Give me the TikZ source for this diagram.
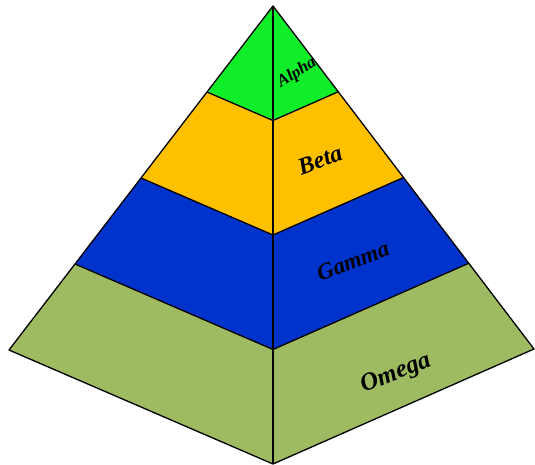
\documentclass[tikz,border=0pt]{standalone}
\usepackage{fontspec}
\setmainfont{Liberation Serif}
\usetikzlibrary{calc}
\definecolor{cAlpha}{HTML}{10EE2A}
\definecolor{cBeta}{HTML}{FFC000}
\definecolor{cGamma}{HTML}{0033CC}
\definecolor{cOmega}{HTML}{9FBB62}
\tikzset{
  edge/.style={draw=black,line width=1.3pt,line join=round},
  lbl/.style={text=black,inner sep=0pt}
}
\newcommand{\lblfont}[1]{\fontsize{#1}{#1}\selectfont\bfseries\itshape}
\begin{document}
\begin{tikzpicture}[x=1pt,y=-1pt]
\useasboundingbox (0,0) rectangle (535,465);
\coordinate (A) at (273,6);
\coordinate (L) at (9,350);
\coordinate (R) at (534,349);
\coordinate (B) at (273,464);
\coordinate (L1) at ($(A)!0.25!(L)$);
\coordinate (L2) at ($(A)!0.5!(L)$);
\coordinate (L3) at ($(A)!0.75!(L)$);
\coordinate (R1) at ($(A)!0.25!(R)$);
\coordinate (R2) at ($(A)!0.5!(R)$);
\coordinate (R3) at ($(A)!0.75!(R)$);
\coordinate (C1) at ($(A)!0.25!(B)$);
\coordinate (C2) at ($(A)!0.5!(B)$);
\coordinate (C3) at ($(A)!0.75!(B)$);
\fill[cAlpha] (A) -- (R1) -- (C1) -- (L1) -- cycle;
\fill[cBeta] (L1) -- (C1) -- (R1) -- (R2) -- (C2) -- (L2) -- cycle;
\fill[cGamma] (L2) -- (C2) -- (R2) -- (R3) -- (C3) -- (L3) -- cycle;
\fill[cOmega] (L3) -- (C3) -- (R3) -- (R) -- (B) -- (L) -- cycle;
\draw[edge] (A) -- (R) -- (B) -- (L) -- cycle;
\draw[edge] (A) -- (B);
\draw[edge] (L1) -- (C1) -- (R1);
\draw[edge] (L2) -- (C2) -- (R2);
\draw[edge] (L3) -- (C3) -- (R3);
\node[lbl,font=\lblfont{17},rotate=32] (tA) at (297,73) {Alpha};
\node[lbl,font=\lblfont{24},rotate=20] (tB) at (320,160) {Beta};
\node[lbl,font=\lblfont{23},rotate=21] (tG) at (353,261) {Gamma};
\node[lbl,font=\lblfont{25},rotate=22] (tO) at (396,374) {Omega};
\end{tikzpicture}
\end{document}
